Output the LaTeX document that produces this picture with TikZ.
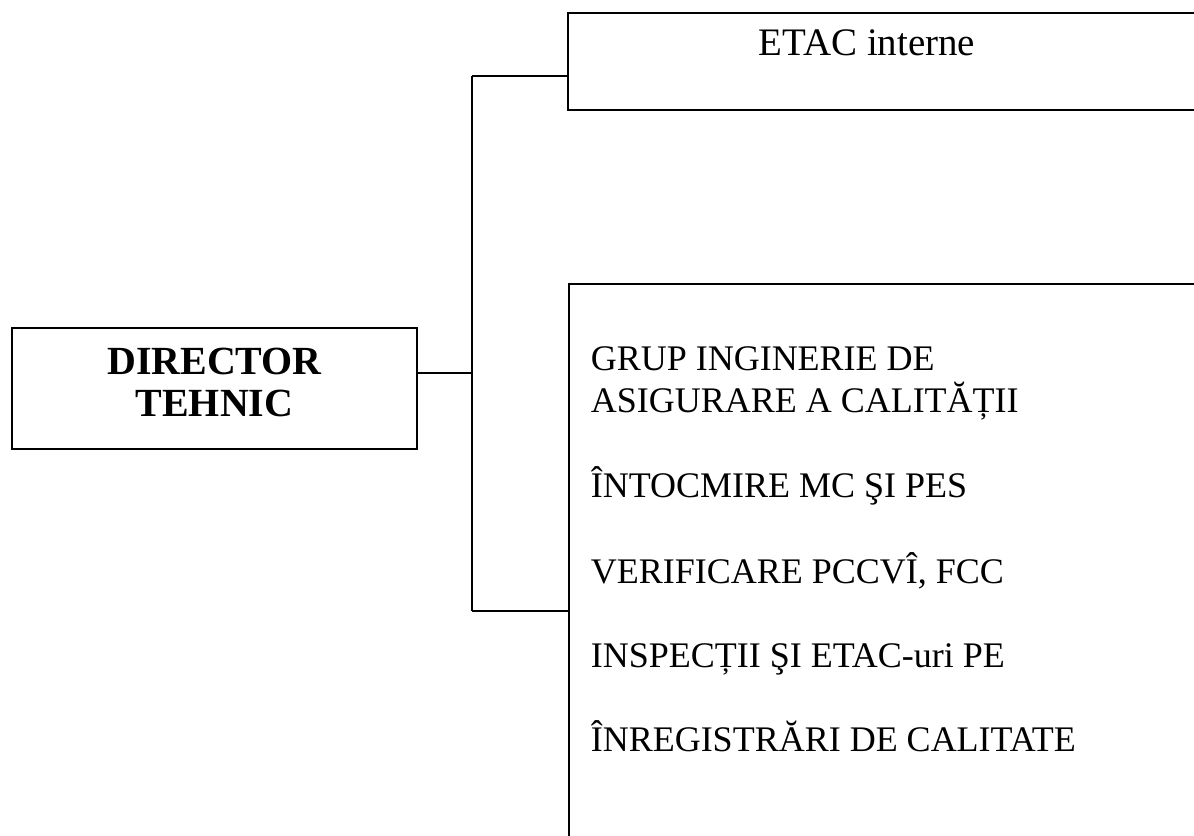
\documentclass[tikz,border=0pt]{standalone}
\usepackage{fontspec}
\setmainfont{Liberation Serif}
\usetikzlibrary{positioning}

\begin{document}
\begin{tikzpicture}[x=0.025cm, y=-0.025cm, line width=1.1pt,
    box/.style={draw, inner sep=0pt},
    item/.style={anchor=base west, inner sep=0pt, font=\fontsize{25.6}{29.9}\selectfont}]
  \useasboundingbox (0,0) rectangle (1194,835);
  \clip (0,0) rectangle (1194,835);
  \node (director) [box, minimum width=10.125cm, minimum height=3.025cm] at (214.5,388.5) {};
  \node (dirlbl) [align=center, inner sep=0pt, font=\bfseries\fontsize{28.4}{29.9}\selectfont] at (214.5,382) {DIRECTOR\\TEHNIC};
  \node (etac) [box, anchor=north west, minimum width=17cm, minimum height=2.425cm] at (567,12) {};
  \node (etaclbl) [anchor=base, inner sep=0pt, font=\fontsize{27.7}{30}\selectfont] at (867,55) {ETAC interne};
  \node (grup) [box, anchor=north west, minimum width=17cm, minimum height=15cm] at (568,283) {};
  \node (g1) [item] at (590,370) {GRUP INGINERIE DE};
  \node (g2) [item] at (590,412) {ASIGURARE A CALITĂȚII};
  \node (g3) [item] at (590,497) {ÎNTOCMIRE MC ŞI PES};
  \node (g4) [item] at (590,583) {VERIFICARE PCCVÎ, FCC};
  \node (g5) [item] at (590,667) {INSPECȚII ŞI ETAC-uri PE};
  \node (g6) [item] at (590,751) {ÎNREGISTRĂRI DE CALITATE};
  % connectors
  \coordinate (top) at (472,76);
  \coordinate (mid) at (472,373);
  \coordinate (bot) at (472,611);
  \draw (mid -| director.east) -- (mid);
  \draw (top) -- (bot);
  \draw (top) -- (top -| etac.west);
  \draw (bot) -- (bot -| grup.west);
\end{tikzpicture}
\end{document}
